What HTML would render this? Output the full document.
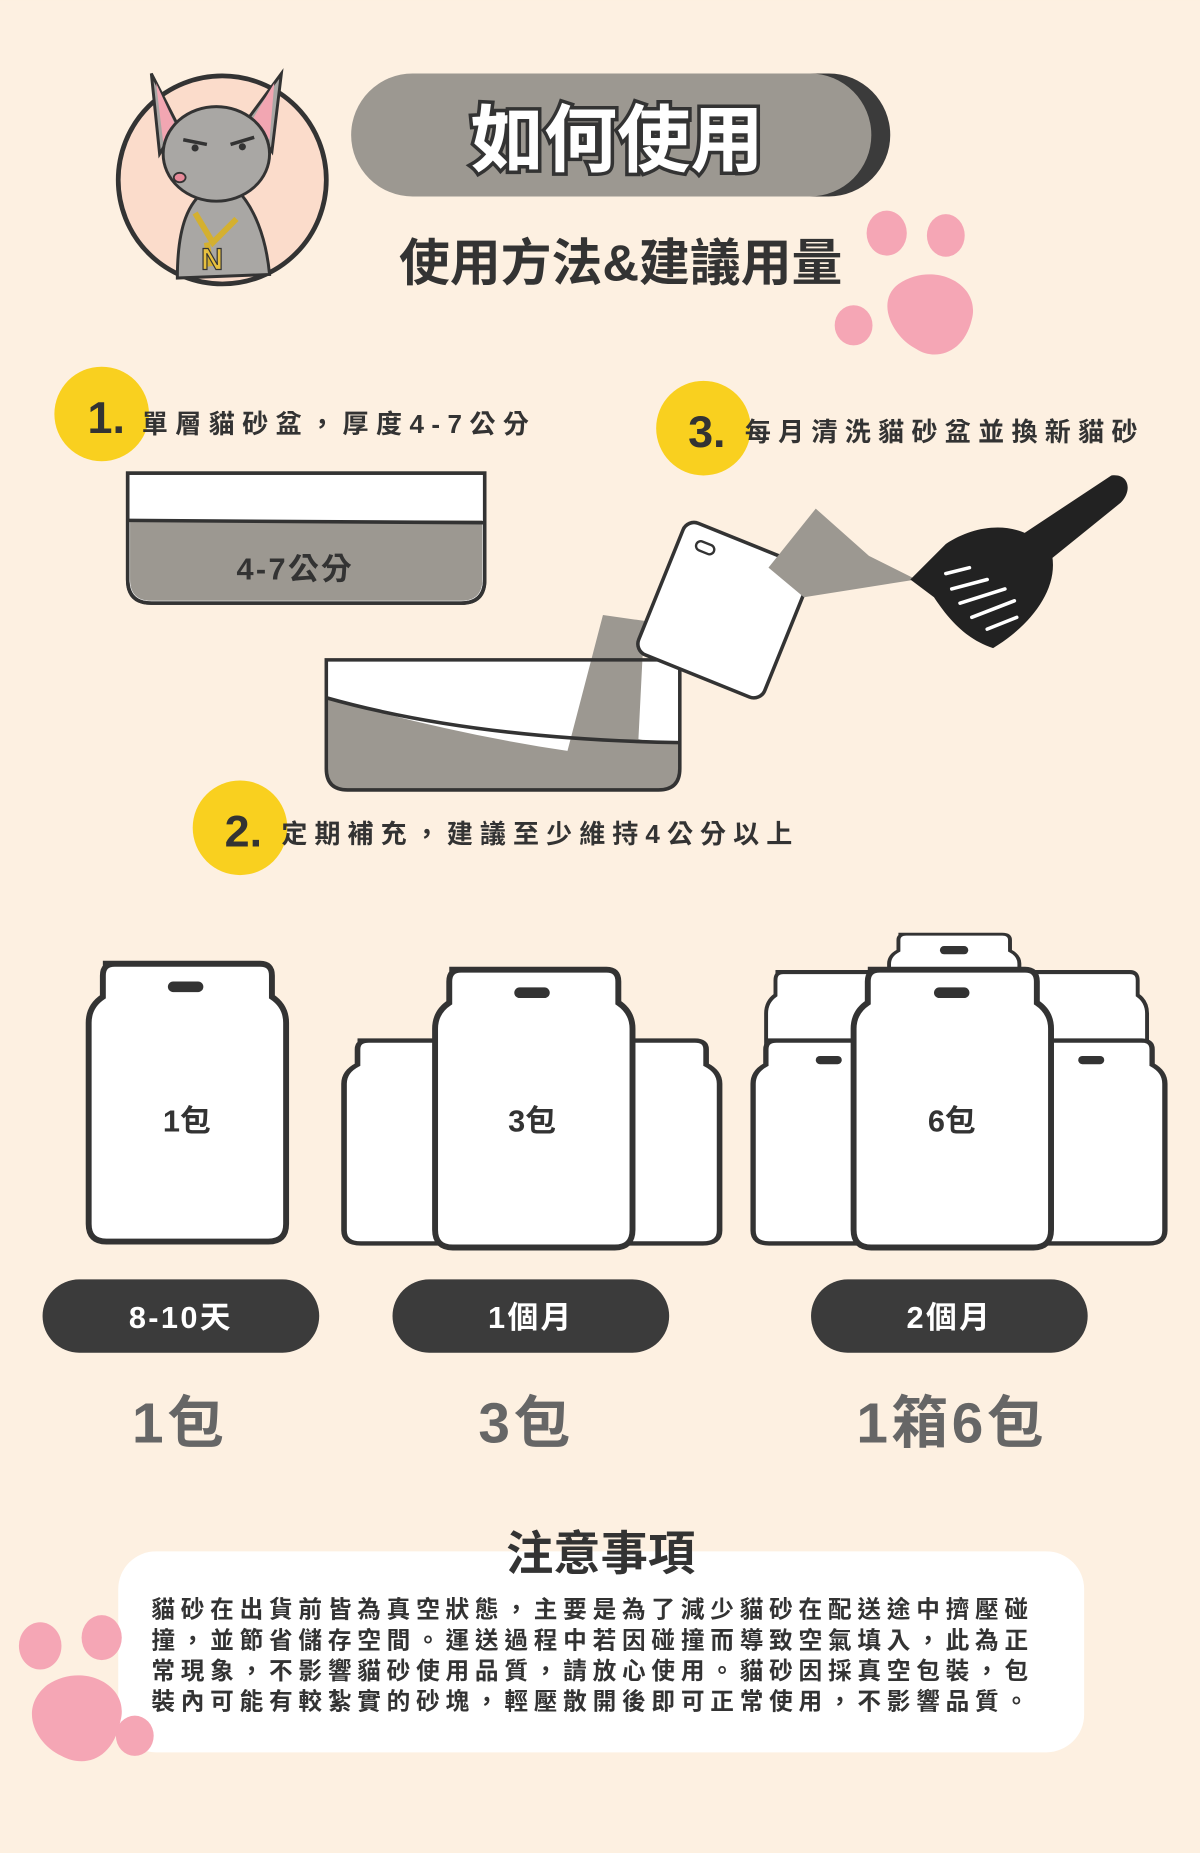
<!DOCTYPE html>
<html><head><meta charset="utf-8"><style>
html,body{margin:0;padding:0;background:#fdf0e1;}
svg{display:block}
text{font-family:"Liberation Sans","Noto Sans CJK TC",sans-serif;font-weight:bold;}
</style></head><body>
<svg width="1200" height="1853" viewBox="0 0 1015 1567" xmlns="http://www.w3.org/2000/svg">
<rect width="1015" height="1567" fill="#fdf0e1"/>
<!-- cat -->
<circle cx="188" cy="152" r="88" fill="#fbdccb" stroke="#333" stroke-width="4"/>
<path d="M150,235 C150,190 160,170 175,160 L200,160 C215,175 225,200 228,232 Z" fill="#a9a7a4" stroke="#333" stroke-width="2.5"/>
<path d="M128,62 L150,105 L135,130 Z M238,62 L210,100 L230,128 Z" fill="#a9a7a4" stroke="#333" stroke-width="2.5"/>
<path d="M132,70 L148,105 L138,120 Z M232,70 L214,100 L228,118 Z" fill="#f2a6b2"/>
<ellipse cx="183" cy="130" rx="45" ry="40" fill="#a9a7a4" stroke="#333" stroke-width="2.5"/>
<path d="M155,118 L175,122 M195,122 L215,116" stroke="#333" stroke-width="3"/>
<circle cx="165" cy="125" r="3" fill="#333"/><circle cx="205" cy="124" r="3" fill="#333"/>
<ellipse cx="152" cy="150" rx="5" ry="4" fill="#e88a9a" stroke="#333" stroke-width="1.5"/>
<path d="M165,180 L180,205 L200,185 M175,205 L178,225" stroke="#d4b030" stroke-width="5" fill="none"/>
<text x="170" y="228" font-size="26" fill="#e6c040" stroke="#333" stroke-width="1">N</text>
<!-- title -->
<rect x="305" y="62" width="448" height="104" rx="52" fill="#3b3b3b"/>
<rect x="297" y="62" width="440" height="104" rx="52" fill="#9c9891"/>
<text x="522" y="140" font-size="62" text-anchor="middle" fill="#fff" stroke="#333" stroke-width="6" paint-order="stroke">如何使用</text>
<text x="525" y="237" font-size="43" text-anchor="middle" fill="#333">使用方法&amp;建議用量</text>
<!-- paw top -->
<g fill="#f5a6b5">
<ellipse cx="750" cy="197" rx="17" ry="19"/><ellipse cx="800" cy="199" rx="16" ry="18"/>
<ellipse cx="722" cy="275" rx="16" ry="17"/>
<path d="M760,240 C790,220 830,240 822,270 C815,300 790,305 775,295 C755,285 740,255 760,240Z"/>
</g>
<!-- steps -->
<circle cx="86" cy="350" r="40" fill="#f9d01f"/>
<text x="74" y="366" font-size="38" fill="#333">1.</text>
<text x="120" y="366" font-size="22" fill="#333" letter-spacing="6.3">單層貓砂盆，厚度4-7公分</text>
<circle cx="595" cy="362" r="40" fill="#f9d01f"/>
<text x="582" y="378" font-size="38" fill="#333">3.</text>
<text x="630" y="373" font-size="22" fill="#333" letter-spacing="6.2">每月清洗貓砂盆並換新貓砂</text>
<circle cx="203" cy="700" r="40" fill="#f9d01f"/>
<text x="190" y="716" font-size="38" fill="#333">2.</text>
<text x="238" y="713" font-size="22" fill="#333" letter-spacing="6">定期補充，建議至少維持4公分以上</text>
<!-- box1 -->
<path d="M108,400 H410 V490 Q410,510 390,510 H128 Q108,510 108,490 Z" fill="#fff" stroke="#333" stroke-width="3"/>
<path d="M110,440 H408 V490 Q408,508 390,508 H128 Q110,508 110,490 Z" fill="#9c9891"/>
<line x1="108" y1="440" x2="410" y2="442" stroke="#333" stroke-width="3"/>
<path d="M108,400 H410 V490 Q410,510 390,510 H128 Q108,510 108,490 Z" fill="none" stroke="#333" stroke-width="3"/>
<text x="200" y="490" font-size="26" fill="#333" letter-spacing="2">4-7公分</text>
<!-- box2 -->
<path d="M276,558 H575 V650 Q575,668 557,668 H294 Q276,668 276,650 Z" fill="#fff"/>
<path d="M276,590 Q380,620 480,635 L510,520 L545,525 L540,625 Q560,630 575,628 V650 Q575,668 557,668 H294 Q276,668 276,650 Z" fill="#9c9891"/>
<path d="M276,590 Q400,625 575,628" stroke="#333" stroke-width="3" fill="none"/>
<path d="M276,558 H575 V650 Q575,668 557,668 H294 Q276,668 276,650 Z" fill="none" stroke="#333" stroke-width="3"/>
<!-- tilted bag -->
<g transform="rotate(22 610 515)">
<rect x="555" y="455" width="115" height="120" rx="10" fill="#fff" stroke="#333" stroke-width="3"/>
<rect x="570" y="468" width="16" height="8" rx="4" fill="#fff" stroke="#333" stroke-width="2"/>
</g>
<path d="M650,480 L690,430 L735,470 L775,490 L680,505 Z" fill="#9c9891"/>
<!-- scoop -->
<path d="M770,490 L800,460 C830,440 870,440 890,470 C895,500 870,530 840,548 C815,540 800,520 790,505 Z M860,455 L940,402 C955,400 958,415 948,425 L880,480 Z" fill="#222"/>
<g stroke="#fff" stroke-width="3" stroke-linecap="round">
<line x1="800" y1="485" x2="820" y2="480"/><line x1="805" y1="498" x2="835" y2="490"/><line x1="812" y1="510" x2="850" y2="498"/><line x1="822" y1="522" x2="858" y2="508"/><line x1="835" y1="532" x2="860" y2="522"/>
</g>
<!-- bags -->
<defs>
<path id="bag" d="M12,0 H145 Q155,0 155,10 V28 Q167,36 167,50 V220 Q167,235 152,235 H15 Q0,235 0,220 V50 Q0,36 12,28 V10 Q12,0 22,0Z" fill="#fff" stroke="#333" stroke-width="5"/>
</defs>
<use href="#bag" x="75" y="815"/>
<rect x="142" y="830" width="30" height="9" rx="4.5" fill="#333"/>
<text x="158" y="957" font-size="26" text-anchor="middle" fill="#333">1包</text>
<g transform="translate(291,880) scale(0.95,0.73)"><use href="#bag"/></g>
<g transform="translate(450,880) scale(0.95,0.73)"><use href="#bag"/></g>
<use href="#bag" x="368" y="820"/>
<rect x="435" y="835" width="30" height="9" rx="4.5" fill="#333"/>
<text x="450" y="957" font-size="26" text-anchor="middle" fill="#333">3包</text>
<g transform="translate(752,790) scale(0.66,0.5)"><use href="#bag"/></g>
<rect x="795" y="800" width="24" height="7" rx="3.5" fill="#333"/>
<g transform="translate(648,822) scale(0.66,0.7)"><use href="#bag"/></g>
<g transform="translate(860,822) scale(0.66,0.7)"><use href="#bag"/></g>
<g transform="translate(637,880) scale(0.9,0.73)"><use href="#bag"/></g>
<g transform="translate(835,880) scale(0.9,0.73)"><use href="#bag"/></g>
<rect x="690" y="893" width="22" height="7" rx="3.5" fill="#333"/>
<rect x="912" y="893" width="22" height="7" rx="3.5" fill="#333"/>
<use href="#bag" x="722" y="820"/>
<rect x="790" y="835" width="30" height="9" rx="4.5" fill="#333"/>
<text x="805" y="957" font-size="26" text-anchor="middle" fill="#333">6包</text>
<!-- pills -->
<rect x="36" y="1082" width="234" height="62" rx="31" fill="#3b3b3b"/>
<text x="153" y="1123" font-size="26" text-anchor="middle" fill="#fff" letter-spacing="2">8-10天</text>
<rect x="332" y="1082" width="234" height="62" rx="31" fill="#3b3b3b"/>
<text x="449" y="1123" font-size="26" text-anchor="middle" fill="#fff" letter-spacing="2">1個月</text>
<rect x="686" y="1082" width="234" height="62" rx="31" fill="#3b3b3b"/>
<text x="803" y="1123" font-size="26" text-anchor="middle" fill="#fff" letter-spacing="2">2個月</text>
<text x="152" y="1220" font-size="48" text-anchor="middle" fill="#666" letter-spacing="3">1包</text>
<text x="445" y="1220" font-size="48" text-anchor="middle" fill="#666" letter-spacing="3">3包</text>
<text x="805" y="1220" font-size="48" text-anchor="middle" fill="#666" letter-spacing="3">1箱6包</text>
<!-- notes -->
<rect x="100" y="1312" width="817" height="170" rx="32" fill="#fff"/>
<g fill="#f5a6b5">
<ellipse cx="34" cy="1392" rx="18" ry="20"/><ellipse cx="86" cy="1385" rx="17" ry="19"/>
<ellipse cx="114" cy="1468" rx="16" ry="17"/>
<path d="M40,1425 C70,1405 110,1425 102,1455 C95,1490 70,1495 52,1485 C30,1475 15,1445 40,1425Z"/>
</g>
<text x="508" y="1328" font-size="40" text-anchor="middle" fill="#333">注意事項</text>
<g font-size="20" fill="#333" letter-spacing="4.9">
<text x="128" y="1368">貓砂在出貨前皆為真空狀態，主要是為了減少貓砂在配送途中擠壓碰</text>
<text x="128" y="1394">撞，並節省儲存空間。運送過程中若因碰撞而導致空氣填入，此為正</text>
<text x="128" y="1420">常現象，不影響貓砂使用品質，請放心使用。貓砂因採真空包裝，包</text>
<text x="128" y="1446">裝內可能有較紮實的砂塊，輕壓散開後即可正常使用，不影響品質。</text>
</g>
</svg>
</body></html>
